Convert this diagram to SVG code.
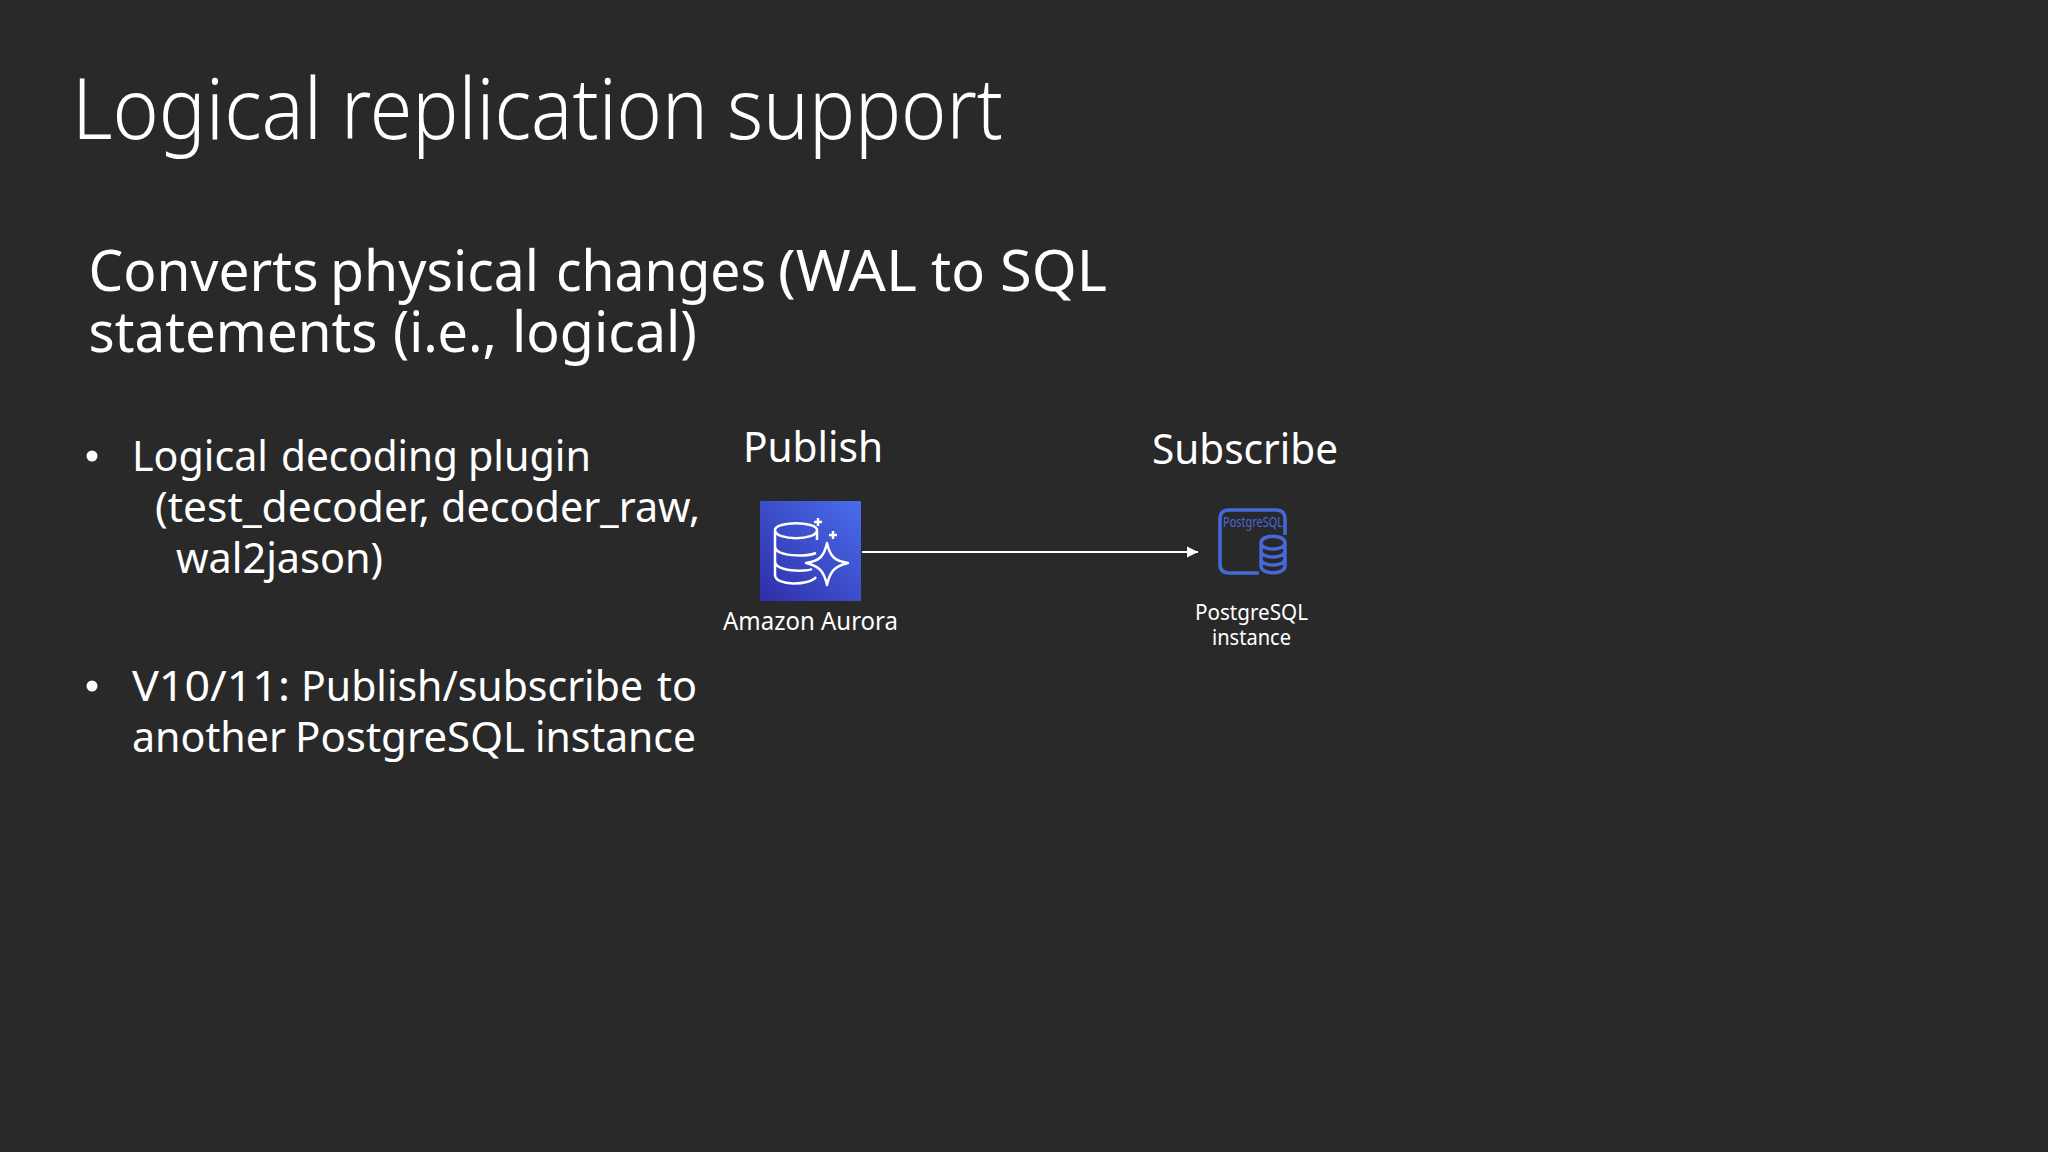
<svg xmlns="http://www.w3.org/2000/svg" width="2048" height="1152" viewBox="0 0 2048 1152">
<style>
text{font-family:"Noto Sans","Open Sans","Liberation Sans",sans-serif;fill:#fff}
.title{font-size:84px;font-weight:300}
.head{font-size:56px}
.body{font-size:42px}
.cap{font-size:25px}
.cap2{font-size:21px}
.w{fill:none;stroke:#fff;stroke-width:2.5;stroke-linejoin:round}
.b{fill:none;stroke:#4668d8;stroke-width:3.5;stroke-linejoin:round}
</style>
<defs>
<linearGradient id="g" x1="0" y1="1" x2="1" y2="0"><stop offset="0" stop-color="#2e2fa8"/><stop offset="1" stop-color="#4a6cec"/></linearGradient>
<marker id="arrow" markerUnits="userSpaceOnUse" markerWidth="12" markerHeight="12" refX="11" refY="6" orient="auto"><path d="M0 0.5L11 6L0 11.5Z" fill="#fff"/></marker>
</defs>
<rect width="2048" height="1152" fill="#29292a"/>
<text class="title" y="139"><tspan x="72" textLength="250" lengthAdjust="spacingAndGlyphs">Logical</tspan> <tspan x="341" textLength="367" lengthAdjust="spacingAndGlyphs">replication</tspan> <tspan x="727" textLength="276" lengthAdjust="spacingAndGlyphs">support</tspan></text>
<text class="head"><tspan x="88.5" y="291" textLength="230" lengthAdjust="spacingAndGlyphs">Converts</tspan> <tspan x="330" y="291" textLength="209" lengthAdjust="spacingAndGlyphs">physical</tspan> <tspan x="556" y="291" textLength="210" lengthAdjust="spacingAndGlyphs">changes</tspan> <tspan x="778" y="291" textLength="139" lengthAdjust="spacingAndGlyphs">(WAL</tspan> <tspan x="931" y="291" textLength="54" lengthAdjust="spacingAndGlyphs">to</tspan> <tspan x="1000" y="291" textLength="107" lengthAdjust="spacingAndGlyphs">SQL</tspan><tspan x="88.5" y="352" textLength="289" lengthAdjust="spacingAndGlyphs">statements</tspan> <tspan x="393" y="352" textLength="104" lengthAdjust="spacingAndGlyphs">(i.e.,</tspan> <tspan x="512" y="352" textLength="185" lengthAdjust="spacingAndGlyphs">logical)</tspan></text>
<circle cx="92" cy="456" r="5.5" fill="#fff"/>
<text class="body"><tspan x="132" y="470.5" textLength="136" lengthAdjust="spacingAndGlyphs">Logical</tspan> <tspan x="281" y="470.5" textLength="177" lengthAdjust="spacingAndGlyphs">decoding</tspan> <tspan x="468" y="470.5" textLength="123" lengthAdjust="spacingAndGlyphs">plugin</tspan><tspan x="155" y="521.5" textLength="275" lengthAdjust="spacingAndGlyphs">(test_decoder,</tspan> <tspan x="441" y="521.5" textLength="259" lengthAdjust="spacingAndGlyphs">decoder_raw,</tspan><tspan x="176" y="572.5" textLength="207" lengthAdjust="spacingAndGlyphs">wal2jason)</tspan></text>
<circle cx="92" cy="686" r="5.5" fill="#fff"/>
<text class="body"><tspan x="132" y="700.5" textLength="158" lengthAdjust="spacingAndGlyphs">V10/11:</tspan> <tspan x="301" y="700.5" textLength="342" lengthAdjust="spacingAndGlyphs">Publish/subscribe</tspan> <tspan x="657" y="700.5" textLength="40" lengthAdjust="spacingAndGlyphs">to</tspan><tspan x="132" y="751.5" textLength="154" lengthAdjust="spacingAndGlyphs">another</tspan> <tspan x="295" y="751.5" textLength="230" lengthAdjust="spacingAndGlyphs">PostgreSQL</tspan> <tspan x="535" y="751.5" textLength="161" lengthAdjust="spacingAndGlyphs">instance</tspan></text>
<g id="connectors"><line x1="862" y1="552" x2="1198" y2="552" stroke="#fff" stroke-width="2" marker-end="url(#arrow)"/></g>
<g id="node-aurora">
<text class="body" x="743" y="461.5" textLength="140" lengthAdjust="spacingAndGlyphs">Publish</text>
<rect x="760" y="501" width="101" height="100" fill="url(#g)"/>
<path class="w" d="M817 540V530C817 521 775 521 775 530V575C775 586 809 586 816 577M775 530C775 541 817 541 817 530M775 546C775 557 806 557 816 553M775 561C775 572 806 572 812 569"/>
<path class="w" d="M827 543C830 557 835 561 848 563C835 566 830 571 827 585C824 571 819 566 806 563C819 561 824 557 827 543Z"/>
<path class="w" d="M818 518V526M814 522H822M833 531V539M829 535H837"/>
<text class="cap" x="723" y="630" textLength="175" lengthAdjust="spacingAndGlyphs">Amazon Aurora</text>
</g>
<g id="node-postgres">
<text class="body" x="1152" y="463.5" textLength="186" lengthAdjust="spacingAndGlyphs">Subscribe</text>
<path class="b" d="M1259 573H1229C1223 573 1220 570 1220 564V519C1220 513 1223 510 1229 510H1276C1282 510 1285 513 1285 519V535"/>
<text x="1223" y="527" font-size="14" style="fill:#4668d8" textLength="60" lengthAdjust="spacingAndGlyphs">PostgreSQL</text>
<path class="b" d="M1261 543C1261 534 1285 534 1285 543V566C1285 575 1261 575 1261 566ZM1261 543C1261 551 1285 551 1285 543M1261 551C1261 559 1285 559 1285 551M1261 559C1261 567 1285 567 1285 559"/>
<text class="cap2"><tspan x="1195" y="620" textLength="113" lengthAdjust="spacingAndGlyphs">PostgreSQL</tspan><tspan x="1212" y="645" textLength="79" lengthAdjust="spacingAndGlyphs">instance</tspan></text>
</g>
</svg>
